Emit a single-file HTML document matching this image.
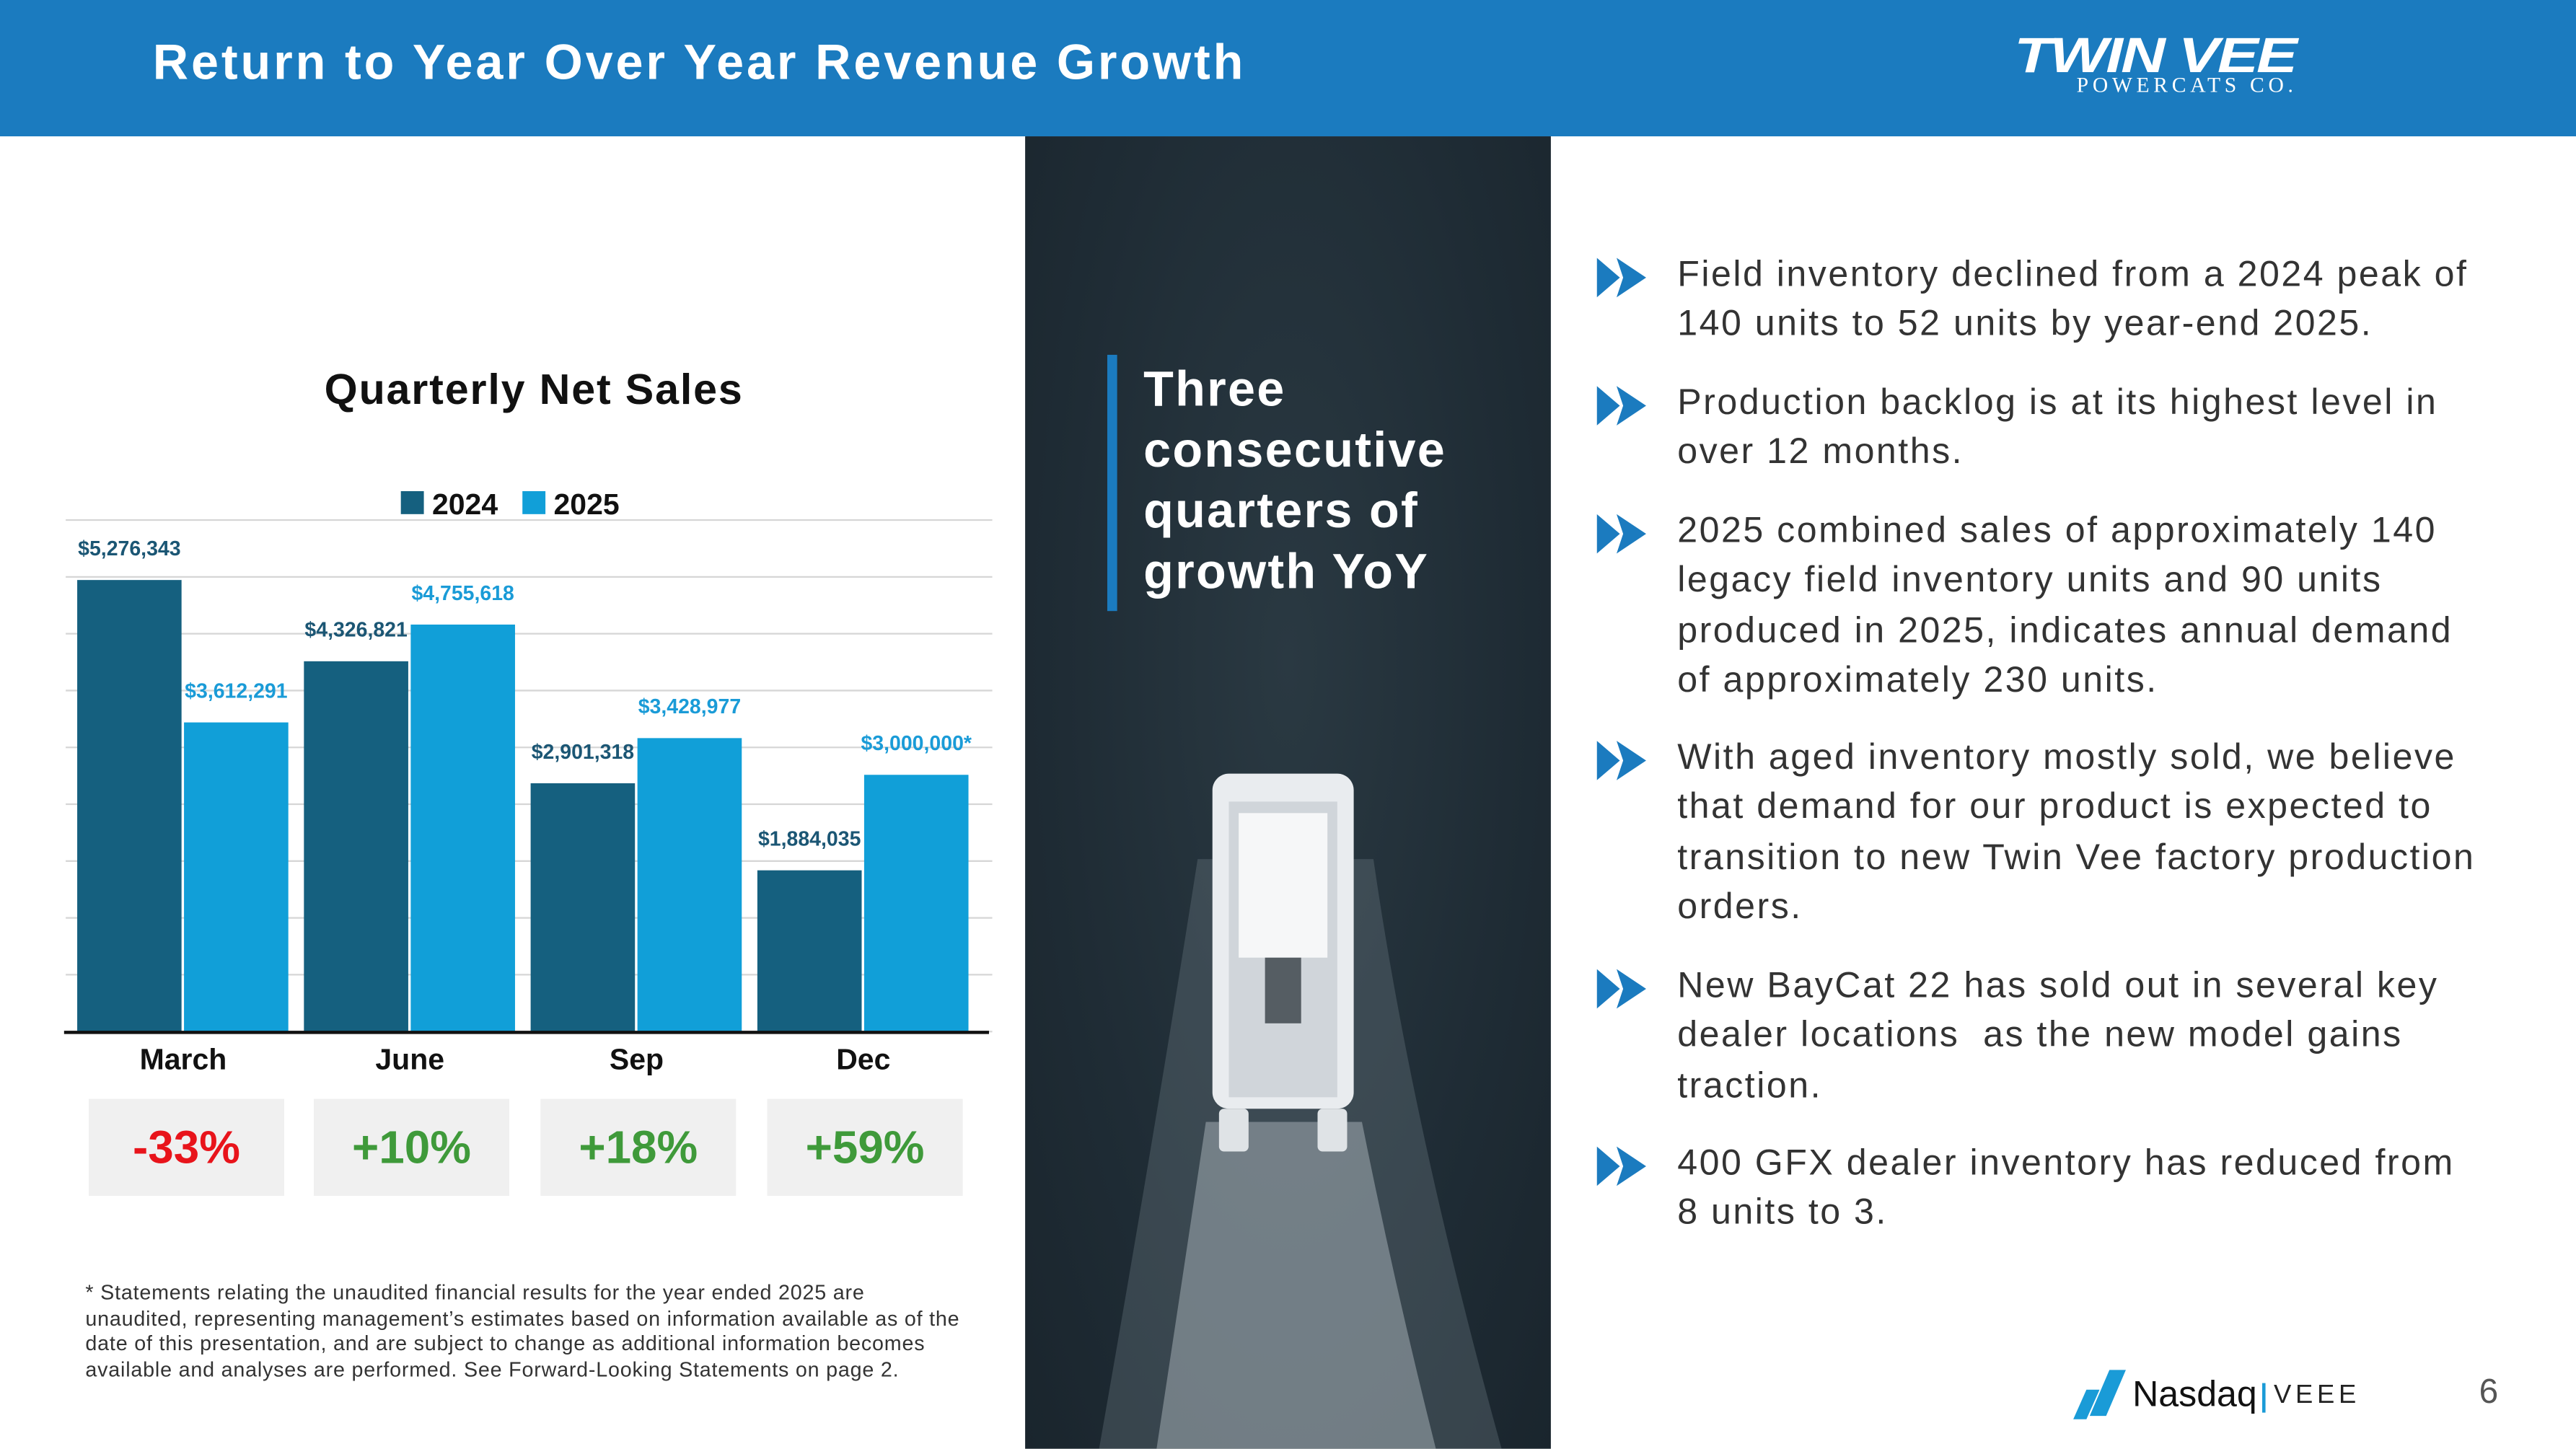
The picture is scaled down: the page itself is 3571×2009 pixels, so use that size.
<!DOCTYPE html>
<html><head><meta charset="utf-8"><style>
html,body{margin:0;padding:0;background:#fff;}
body{width:3571px;height:2009px;overflow:hidden;}
#s{position:absolute;left:0;top:0;width:1568px;height:882px;transform:scale(2.27742);transform-origin:0 0;font-family:"Liberation Sans",sans-serif;}
.hdr{position:absolute;left:0;top:0;width:1568px;height:83px;background:#1b7bbf;}
.title{position:absolute;left:93px;top:22px;color:#fff;font-weight:bold;font-size:30px;letter-spacing:1.7px;}
.photo{position:absolute;left:624px;top:83px;width:320px;height:799px;background:radial-gradient(ellipse at 50% 40%,#2a3942 0%,#1f2c35 60%,#1a252d 100%);overflow:hidden;}
.bullet{position:absolute;left:972px;width:560px;}
.bullet .t{position:absolute;left:49px;top:0;font-size:22px;letter-spacing:1.1px;line-height:30.3px;color:#333;width:488px;}
.growth{position:absolute;top:669px;width:119px;height:59px;background:#f0f0f0;font-weight:bold;font-size:28px;text-align:center;line-height:59px;}
.note{position:absolute;left:52px;top:780px;width:540px;font-size:12.6px;letter-spacing:0.35px;line-height:15.5px;color:#333;}
</style></head><body>
<div id="s">
<div class="hdr"></div>
<div class="title">Return to Year Over Year Revenue Growth</div>
<div style="position:absolute;left:1226px;top:20px;width:225px;color:#fff;">
 <div style="font-family:'Liberation Sans',sans-serif;font-weight:900;font-style:italic;font-size:30px;line-height:30px;letter-spacing:-1px;transform:scaleX(1.25);transform-origin:0 0;">TWIN VEE</div>
 <div style="font-family:'Liberation Serif',serif;font-size:13px;letter-spacing:2.5px;margin-left:38px;margin-top:-6px;">POWERCATS CO.</div>
</div>

<div style="position:absolute;left:40px;width:570px;top:222px;text-align:center;font-size:26px;letter-spacing:0.8px;font-weight:bold;color:#111;">Quarterly Net Sales</div>
<svg id="chart" style="position:absolute;left:0;top:0" width="624" height="700"></svg>

<div class="growth" style="left:54px;color:#e8141b">-33%</div>
<div class="growth" style="left:191px;color:#3f9a3a">+10%</div>
<div class="growth" style="left:329px;color:#3f9a3a">+18%</div>
<div class="growth" style="left:467px;color:#3f9a3a">+59%</div>

<div class="note">* Statements relating the unaudited financial results for the year ended 2025 are unaudited, representing management’s estimates based on information available as of the date of this presentation, and are subject to change as additional information becomes available and analyses are performed. See Forward-Looking Statements on page 2.</div>

<div class="photo">
<svg width="320" height="799" style="position:absolute;left:0;top:0">
 <path d="M105 440 Q80 600 45 799 L290 799 Q235 600 212 440 Z" fill="#6d7a83" opacity="0.35"/>
 <path d="M110 600 Q95 700 80 799 L250 799 Q225 700 205 600 Z" fill="#b8c1c8" opacity="0.45"/>
 <rect x="114" y="388" width="86" height="204" rx="10" fill="#e9ecef"/>
 <rect x="124" y="405" width="66" height="180" fill="#d0d5da"/>
 <rect x="130" y="412" width="54" height="88" fill="#f6f7f8"/>
 <rect x="146" y="500" width="22" height="40" fill="#555d63"/>
 <rect x="118" y="592" width="18" height="26" rx="3" fill="#dfe3e6"/>
 <rect x="178" y="592" width="18" height="26" rx="3" fill="#dfe3e6"/>
</svg>
<div style="position:absolute;left:50px;top:133px;width:6px;height:156px;background:#1b7bbf"></div>
<div style="position:absolute;left:72px;top:136px;color:#fff;font-weight:bold;font-size:30px;letter-spacing:1px;line-height:37px;">Three<br>consecutive<br>quarters of<br>growth YoY</div>
</div>

<div class="bullet" style="top:152px"><svg width="34" height="30" style="position:absolute;top:3px"><path d="M0 2 L14 14 L0 26 Z M12 2 L30 14 L12 26 L16 14 Z" fill="#1b7bbf"/></svg><div class="t">Field inventory declined from a 2024 peak of 140 units to 52 units by year-end 2025.</div></div>
<div class="bullet" style="top:230px"><svg width="34" height="30" style="position:absolute;top:3px"><path d="M0 2 L14 14 L0 26 Z M12 2 L30 14 L12 26 L16 14 Z" fill="#1b7bbf"/></svg><div class="t">Production backlog is at its highest level in over 12 months.</div></div>
<div class="bullet" style="top:308px"><svg width="34" height="30" style="position:absolute;top:3px"><path d="M0 2 L14 14 L0 26 Z M12 2 L30 14 L12 26 L16 14 Z" fill="#1b7bbf"/></svg><div class="t">2025 combined sales of approximately 140 legacy field inventory units and 90 units produced in 2025, indicates annual demand of approximately 230 units.</div></div>
<div class="bullet" style="top:446px"><svg width="34" height="30" style="position:absolute;top:3px"><path d="M0 2 L14 14 L0 26 Z M12 2 L30 14 L12 26 L16 14 Z" fill="#1b7bbf"/></svg><div class="t">With aged inventory mostly sold, we believe that demand for our product is expected to transition to new Twin Vee factory production orders.</div></div>
<div class="bullet" style="top:585px"><svg width="34" height="30" style="position:absolute;top:3px"><path d="M0 2 L14 14 L0 26 Z M12 2 L30 14 L12 26 L16 14 Z" fill="#1b7bbf"/></svg><div class="t">New BayCat 22 has sold out in several key dealer locations &nbsp;as the new model gains traction.</div></div>
<div class="bullet" style="top:693px"><svg width="34" height="30" style="position:absolute;top:3px"><path d="M0 2 L14 14 L0 26 Z M12 2 L30 14 L12 26 L16 14 Z" fill="#1b7bbf"/></svg><div class="t">400 GFX dealer inventory has reduced from 8 units to 3.</div></div>

<div style="position:absolute;left:1258px;top:832px;height:34px;width:200px;">
 <svg width="40" height="34" style="position:absolute;left:0;top:0"><path d="M4 32 L12 14 L20 14 L12 32 Z M14 30 L26 2 L36 2 L24 30 Z" fill="#1a9bd7"/></svg>
 <div style="position:absolute;left:40px;top:4px;font-size:22px;color:#111;">Nasdaq</div>
 <div style="position:absolute;left:119px;top:10px;width:1.5px;height:18px;background:#1a9bd7"></div>
 <div style="position:absolute;left:126px;top:9px;font-size:16px;letter-spacing:2.5px;color:#222;">VEEE</div>
</div>
<div style="position:absolute;left:1509px;top:836px;font-size:21px;color:#555;">6</div>
</div>
<script>
const categories = ["March","June","Sep","Dec"];
const sales2024 = [5276343, 4326821, 2901318, 1884035];
const sales2025 = [3612291, 4755618, 3428977, 3000000];
const labels2024 = ["$5,276,343","$4,326,821","$2,901,318","$1,884,035"];
const labels2025 = ["$3,612,291","$4,755,618","$3,428,977","$3,000,000*"];
const gridValues = [0,1,2,3,4,5,6,7,8,9];

const NS = "http://www.w3.org/2000/svg";
const svg = document.getElementById("chart");
const baseY = 628, pxPerM = 52.1;
function y(v){ return baseY - v/1e6*pxPerM; }
function gx(i){ return 47 + 138*i; }
const BW = 63.5;
function mk(tag, attrs){ const e=document.createElementNS(NS,tag); for(const k in attrs) e.setAttribute(k,attrs[k]); svg.appendChild(e); return e; }

gridValues.forEach(g=>{
  const l = mk("line",{x1:40,x2:604,y1:baseY-34.6*g,y2:baseY-34.6*g,stroke:"#d6d6d6","stroke-width":1});
  
  
});
categories.forEach((c,i)=>{
  const b1 = mk("rect",{x:gx(i),y:y(sales2024[i]),width:BW,height:baseY-y(sales2024[i]),fill:"#15607f"});
  
  
  const b2 = mk("rect",{x:gx(i)+BW+1.5,y:y(sales2025[i]),width:BW,height:baseY-y(sales2025[i]),fill:"#119fd8"});
  
  
  const t1 = mk("text",{x:gx(i)+BW/2,y:y(sales2024[i])-15,"text-anchor":"middle","font-size":12.5,"font-weight":"bold",fill:"#1b5674","font-family":"Liberation Sans Narrow, Liberation Sans, sans-serif"});
  t1.textContent = labels2024[i];
  
  
  const t2 = mk("text",{x:gx(i)+BW*1.5+1.5,y:y(sales2025[i])-15,"text-anchor":"middle","font-size":12.5,"font-weight":"bold",fill:"#1a9bd7","font-family":"Liberation Sans Narrow, Liberation Sans, sans-serif"});
  t2.textContent = labels2025[i];
  
  
  const cl = mk("text",{x:gx(i)+BW+1,y:651,"text-anchor":"middle","font-size":18,"font-weight":"bold",fill:"#111","font-family":"Liberation Sans Narrow, Liberation Sans, sans-serif"});
  cl.textContent = c;
  
  
});
const ax = mk("line",{x1:39,x2:602,y1:baseY+0.5,y2:baseY+0.5,stroke:"#111","stroke-width":2});


const leg = [["2024","#15607f",244],["2025","#119fd8",318]];
leg.forEach(l=>{
  const r = mk("rect",{x:l[2],y:299,width:14,height:14,fill:l[1]});
  
  
  const t = mk("text",{x:l[2]+19,y:313,"font-size":18,"font-weight":"bold",fill:"#111","font-family":"Liberation Sans Narrow, Liberation Sans, sans-serif"});
  t.textContent = l[0];
  
  
});
</script>
</body></html>
